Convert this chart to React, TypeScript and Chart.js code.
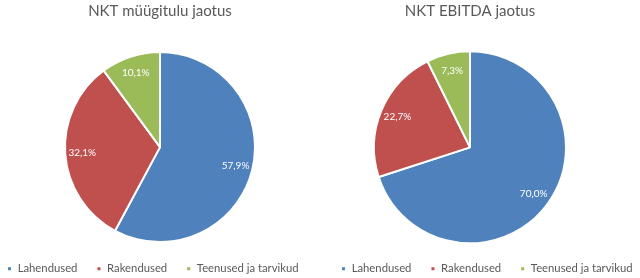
import React, { useEffect, useRef } from "react";
import { Chart, registerables } from "chart.js";

Chart.register(...registerables);

// ---- data ----
const categories = ["Lahendused", "Rakendused", "Teenused ja tarvikud"];
const salesShares = [57.9, 32.1, 10.1];
const ebitdaShares = [70.0, 22.7, 7.3];
const salesTitle = "NKT müügitulu jaotus";
const ebitdaTitle = "NKT EBITDA jaotus";
const sliceColors = ["#4F81BD", "#C0504D", "#9BBB59"];

const FONT = "Lato, 'Open Sans', 'Noto Sans', sans-serif";
const TEXT_GRAY = "#595959";

const fmtPct = (v: number) => v.toFixed(1).replace(".", ",") + "%";

const sliceLabels = {
  id: "sliceLabels",
  afterDatasetsDraw(chart: any, _args: any, opts: any) {
    const ctx = chart.ctx;
    const meta = chart.getDatasetMeta(0);
    const data = chart.data.datasets[0].data as number[];
    ctx.save();
    ctx.font = `${opts.size || 10.5}px ${FONT}`;
    ctx.fillStyle = "#ffffff";
    ctx.textAlign = "center";
    ctx.textBaseline = "middle";
    meta.data.forEach((arc: any, i: number) => {
      const p = arc.getProps(["x", "y", "startAngle", "endAngle", "outerRadius"], true);
      const mid = (p.startAngle + p.endAngle) / 2;
      const r = p.outerRadius * (opts.factor || 0.8);
      ctx.fillText(fmtPct(data[i]), p.x + Math.cos(mid) * r, p.y + Math.sin(mid) * r);
    });
    ctx.restore();
  },
};

const legendShift = {
  id: "legendShift",
  afterLayout(chart: any, _args: any, opts: any) {
    const lg = chart.legend;
    if (!lg || opts.startX == null) return;
    const w = lg.right - lg.left;
    const pad = lg.options.labels.padding;
    lg.left = opts.startX - pad;
    lg.right = lg.left + w;
  },
};

function PieChart(props: {
  title: string;
  values: number[];
  width: number;
  radius: number;
  legendStart: number;
  titlePadBottom: number;
}) {
  const ref = useRef<HTMLCanvasElement>(null);
  useEffect(() => {
    if (!ref.current) return;
    const chart = new Chart(ref.current, {
      type: "pie",
      data: {
        labels: categories,
        datasets: [
          {
            data: props.values,
            backgroundColor: sliceColors,
            borderColor: "#ffffff",
            borderWidth: 2,
            radius: props.radius,
          } as any,
        ],
      },
      options: {
        responsive: false,
        animation: false,
        events: [],
        layout: { padding: { top: 0, bottom: -6.5, left: 0, right: 0 } },
        plugins: {
          title: {
            display: true,
            text: props.title,
            color: TEXT_GRAY,
            font: { family: FONT, size: 15, weight: "normal" },
            padding: { top: 2, bottom: props.titlePadBottom },
          },
          legend: {
            display: true,
            position: "bottom",
            align: "start",
            labels: {
              boxWidth: 5,
              boxHeight: 5,
              padding: 19,
              color: TEXT_GRAY,
              font: { family: FONT, size: 11.3 },
            },
          },
          tooltip: { enabled: false },
          legendShift: { startX: props.legendStart },
          sliceLabels: { size: 10, factor: 0.82 },
        } as any,
      },
      plugins: [sliceLabels, legendShift],
    });
    return () => chart.destroy();
  }, []);
  return <canvas ref={ref} width={props.width} height={278} style={{ display: "block" }} />;
}

export default function App() {
  return (
    <div style={{ position: "absolute", left: 0, top: 0, width: 640, height: 278, background: "#fff", overflow: "hidden" }}>
      <div style={{ position: "absolute", left: -40, top: 0 }}>
        <PieChart title={salesTitle} values={salesShares} width={400} radius={95} legendStart={47} titlePadBottom={30} />
      </div>
      <div style={{ position: "absolute", left: 270, top: 0 }}>
        <PieChart title={ebitdaTitle} values={ebitdaShares} width={400} radius={96} legendStart={71} titlePadBottom={30.5} />
      </div>
    </div>
  );
}
